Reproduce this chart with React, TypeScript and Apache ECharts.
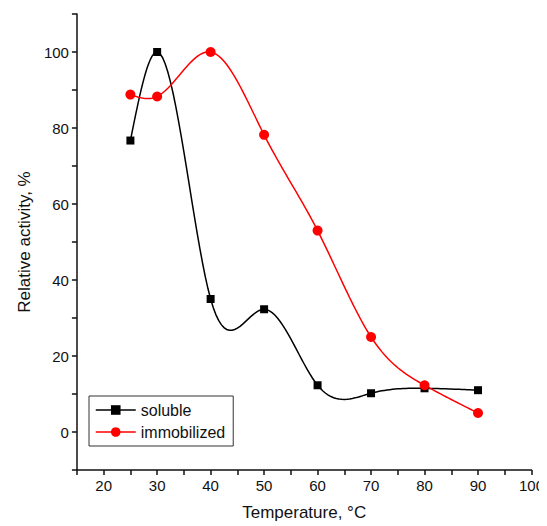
import React, { useEffect, useRef } from "react";
import * as echarts from "echarts";

const temps = [25, 30, 40, 50, 60, 70, 80, 90];
const soluble = [76.7, 100, 35, 32.3, 12.3, 10.2, 11.5, 11];
const immobilized = [88.8, 88.3, 100, 78.2, 53, 25, 12.3, 5];
const xLabels = [20, 30, 40, 50, 60, 70, 80, 90, 100];
const yLabels = [0, 20, 40, 60, 80, 100];

function spline(xs: number[], ys: number[]) {
  const n = xs.length;
  const h = xs.slice(1).map((x, i) => x - xs[i]);
  const a = new Array(n).fill(0), b = new Array(n).fill(1), c = new Array(n).fill(0), d = new Array(n).fill(0);
  for (let i = 1; i < n - 1; i++) {
    a[i] = h[i - 1]; b[i] = 2 * (h[i - 1] + h[i]); c[i] = h[i];
    d[i] = 6 * ((ys[i + 1] - ys[i]) / h[i] - (ys[i] - ys[i - 1]) / h[i - 1]);
  }
  const m = new Array(n).fill(0);
  const cp = [...c], dp = [...d];
  for (let i = 1; i < n; i++) {
    const w = a[i] / b[i - 1];
    b[i] -= w * cp[i - 1]; dp[i] -= w * dp[i - 1];
  }
  m[n - 1] = dp[n - 1] / b[n - 1];
  for (let i = n - 2; i >= 0; i--) m[i] = (dp[i] - cp[i] * m[i + 1]) / b[i];
  const out: number[][] = [];
  for (let i = 0; i < n - 1; i++) {
    for (let k = 0; k < 20; k++) {
      const t = k / 20, x = xs[i] + t * h[i];
      const A = 1 - t, B = t;
      const y = A * ys[i] + B * ys[i + 1] + ((A * A * A - A) * m[i] + (B * B * B - B) * m[i + 1]) * h[i] * h[i] / 6;
      out.push([x, y]);
    }
  }
  out.push([xs[n - 1], ys[n - 1]]);
  return out;
}

function curveSeries(ys: number[], color: string) {
  const pts = spline(temps, ys);
  return {
    type: "custom",
    silent: true,
    z: 1,
    data: [0],
    renderItem: (_p: any, api: any) => ({
      type: "polyline",
      shape: { points: pts.map((p) => api.coord(p)) },
      style: { stroke: color, lineWidth: 1.5, fill: "none" },
    }),
  };
}

export default function App() {
  const ref = useRef<HTMLDivElement>(null);
  useEffect(() => {
    const chart = echarts.init(ref.current!, null, { renderer: "svg" });
    const font = "Arial, 'Liberation Sans', sans-serif";
    chart.setOption({
      animation: false,
      textStyle: { fontFamily: font },
      grid: { left: 67, right: 9, top: 6, bottom: 50 },
      legend: {
        orient: "vertical",
        left: 81,
        top: 388,
        itemGap: 6,
        itemWidth: 40,
        itemHeight: 12,
        padding: [6, 8, 6, 6],
        borderColor: "#333",
        borderWidth: 1,
        textStyle: { fontSize: 16, color: "#111", fontFamily: font },
        data: [
          { name: "soluble", lineStyle: { width: 1.5, color: "#000", opacity: 1 } },
          { name: "immobilized", lineStyle: { width: 1.5, color: "#ff0000", opacity: 1 } },
        ],
      },
      xAxis: {
        type: "value",
        min: 15,
        max: 100,
        interval: 5,
        name: "Temperature, °C",
        nameLocation: "middle",
        nameGap: 34,
        nameTextStyle: { fontSize: 17, color: "#111" },
        axisLine: { onZero: false, lineStyle: { color: "#111", width: 1.5 } },
        axisTick: { length: 5, lineStyle: { color: "#111", width: 1.5 } },
        axisLabel: { customValues: xLabels, fontSize: 15, color: "#111", margin: 8 },
        splitLine: { show: false },
      },
      yAxis: {
        type: "value",
        min: -10,
        max: 110,
        interval: 10,
        name: "Relative activity, %",
        nameLocation: "middle",
        nameGap: 42,
        nameTextStyle: { fontSize: 17, color: "#111" },
        axisLine: { onZero: false, lineStyle: { color: "#111", width: 1.5 } },
        axisTick: { length: 5, lineStyle: { color: "#111", width: 1.5 } },
        axisLabel: { customValues: yLabels, fontSize: 15, color: "#111", margin: 8 },
        splitLine: { show: false },
      },
      series: [
        curveSeries(soluble, "#000"),
        curveSeries(immobilized, "#ff0000"),
        {
          name: "soluble",
          type: "line",
          z: 3,
          symbol: "rect",
          symbolSize: 8,
          itemStyle: { color: "#000" },
          lineStyle: { color: "#000", width: 0, opacity: 0 },
          data: temps.map((t, i) => [t, soluble[i]]),
        },
        {
          name: "immobilized",
          type: "line",
          z: 3,
          symbol: "circle",
          symbolSize: 10,
          itemStyle: { color: "#ff0000" },
          lineStyle: { color: "#ff0000", width: 0, opacity: 0 },
          data: temps.map((t, i) => [t, immobilized[i]]),
        },
      ],
    });
    return () => chart.dispose();
  }, []);
  return <div ref={ref} style={{ width: 539, height: 518 }} />;
}
